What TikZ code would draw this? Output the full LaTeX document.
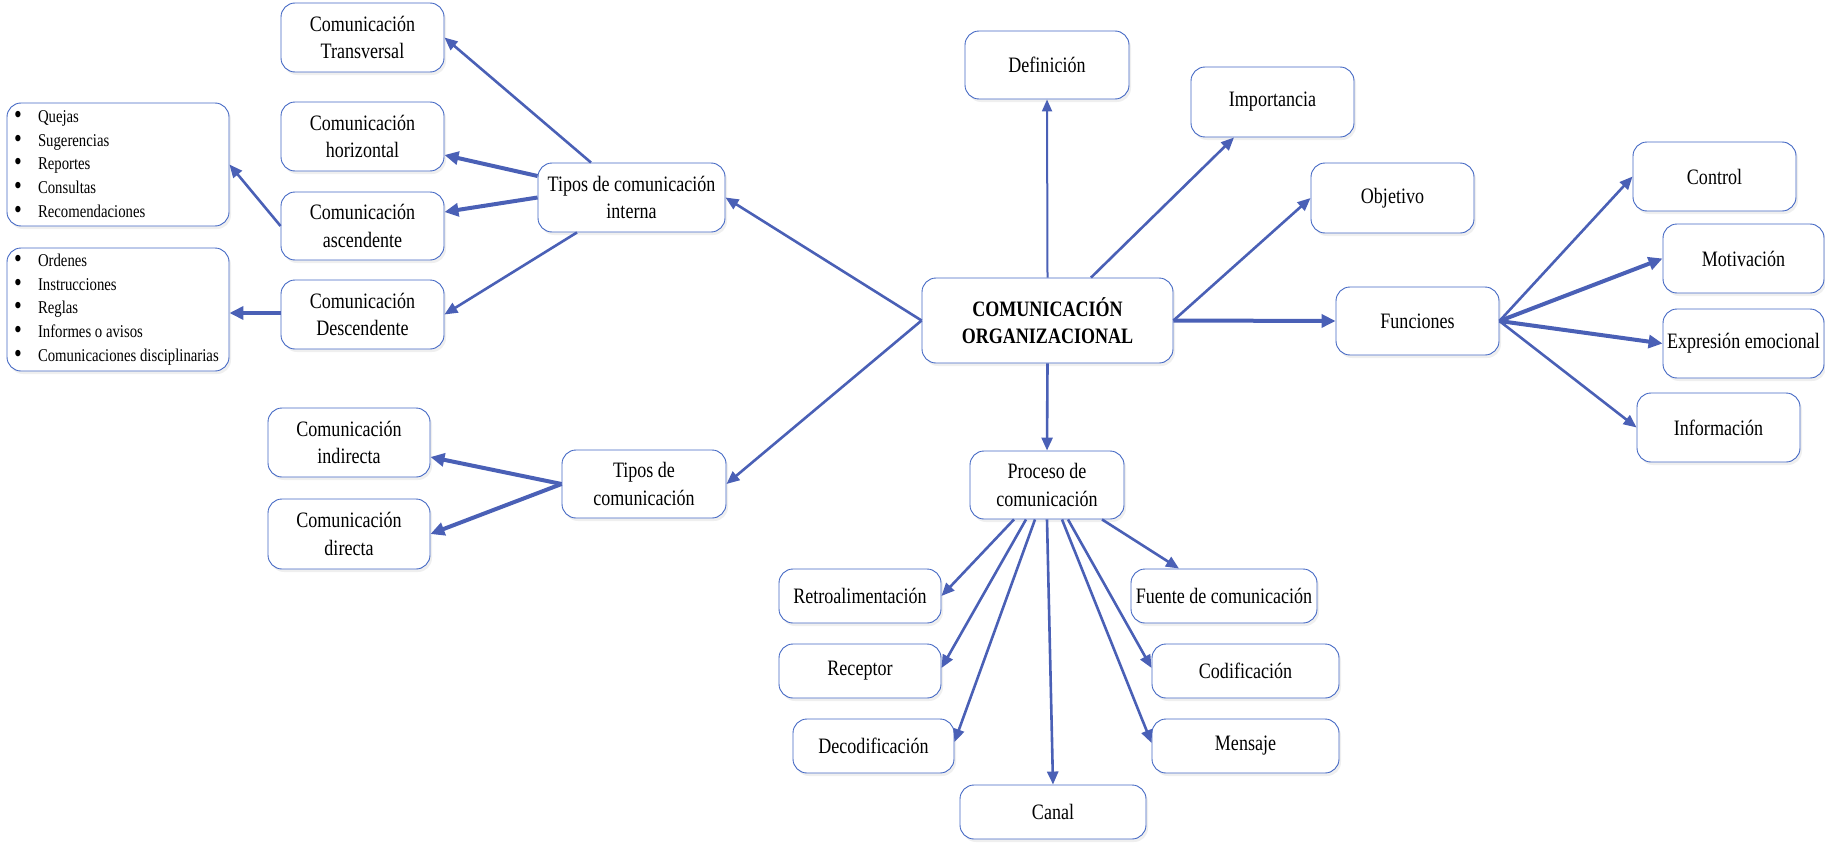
\documentclass[tikz,border=0pt]{standalone}
\usepackage{fontspec}
\setmainfont{Liberation Serif}[FakeStretch=0.82]
\usetikzlibrary{arrows.meta,shadows,calc}
\definecolor{boxblue}{RGB}{68,104,196}
\definecolor{arrblue}{RGB}{74,96,182}
\newcommand{\lrow}[1]{\makebox[208pt][l]{\makebox[24pt][l]{\raisebox{-1pt}{\scalebox{1.5}{\textbullet}}}#1}}
\tikzset{
  box/.style={draw=boxblue, line width=0.9pt, rounded corners=14pt, fill=white,
    align=center, inner sep=0pt, font=\fontsize{22}{27.5}\selectfont,
    drop shadow={shadow xshift=2pt, shadow yshift=-3pt, fill=black!12}},
  listbox/.style={box, align=center,
    minimum width=222pt, minimum height=123pt, font=\fontsize{18}{23.7}\selectfont},
  arr/.style={draw=arrblue, line width=2.6pt, -{Triangle[length=13pt,width=11pt]}},
  arrthick/.style={draw=arrblue, line width=4pt, -{Triangle[length=14pt,width=13pt]}},
  arrthin/.style={draw=arrblue, line width=2pt, -{Triangle[length=12pt,width=10pt]}}
}
\begin{document}
\begin{tikzpicture}[x=1pt,y=-1pt]
\useasboundingbox (0,0) rectangle (1825,843);
% left branch
\node[box,minimum width=163pt,minimum height=69pt] (trans) at (362.5,37.5) {Comunicación\\Transversal};
\node[box,minimum width=163pt,minimum height=69pt] (horiz) at (362.5,136.5) {Comunicación\\horizontal};
\node[box,minimum width=163pt,minimum height=68pt] (asc) at (362.5,226) {Comunicación\\ascendente};
\node[box,minimum width=163pt,minimum height=69pt] (desc) at (362.5,314.5) {Comunicación\\Descendente};
\node[box,minimum width=187pt,minimum height=69pt] (tint) at (631.5,197.5) {Tipos de comunicación\\interna};
\node[listbox] (quejas) at (118,164.5) {\lrow{Quejas}\\\lrow{Sugerencias}\\\lrow{Reportes}\\\lrow{Consultas}\\\lrow{Recomendaciones}};
\node[listbox] (ordenes) at (118,309.5) {\lrow{Ordenes}\\\lrow{Instrucciones}\\\lrow{Reglas}\\\lrow{Informes o avisos}\\\lrow{Comunicaciones disciplinarias}};
\node[box,minimum width=162pt,minimum height=69pt] (indir) at (349,442.5) {Comunicación\\indirecta};
\node[box,minimum width=162pt,minimum height=70pt] (dir) at (349,534) {Comunicación\\directa};
\node[box,minimum width=164pt,minimum height=68pt] (tcom) at (644,484) {Tipos de\\comunicación};
% center and top
\node[box,minimum width=164pt,minimum height=68pt] (def) at (1047,65) {Definición};
\node[box,minimum width=163pt,minimum height=70pt] (imp) at (1272.5,102) {Importancia};
\node[box,minimum width=163pt,minimum height=70pt] (obj) at (1392.5,198) {Objetivo};
\node[box,minimum width=251pt,minimum height=85pt,font=\fontsize{22}{27.5}\selectfont\bfseries] (main) at (1047.5,320.5) {COMUNICACIÓN\\ORGANIZACIONAL};
% right branch
\node[box,minimum width=163pt,minimum height=68pt] (fun) at (1417.5,321) {Funciones};
\node[box,minimum width=163pt,minimum height=69pt] (control) at (1714.5,176.5) {Control};
\node[box,minimum width=161pt,minimum height=69pt] (motiv) at (1743.5,258.5) {Motivación};
\node[box,minimum width=161pt,minimum height=69pt] (expr) at (1743.5,343.5) {Expresión emocional};
\node[box,minimum width=163pt,minimum height=69pt] (info) at (1718.5,427.5) {Información};
% bottom branch
\node[box,minimum width=154pt,minimum height=68pt] (proc) at (1047,485) {Proceso de\\comunicación};
\node[box,minimum width=162pt,minimum height=54pt] (retro) at (860,596) {Retroalimentación};
\node[box,minimum width=162pt,minimum height=54pt] (recep) at (860,671) {Receptor};
\node[box,minimum width=161pt,minimum height=54pt] (decod) at (873.5,746) {Decodificación};
\node[box,minimum width=186pt,minimum height=54pt] (canal) at (1053,812) {Canal};
\node[box,minimum width=186pt,minimum height=54pt] (fuente) at (1224,596) {Fuente de comunicación};
\node[box,minimum width=187pt,minimum height=54pt] (codif) at (1245.5,671) {Codificación};
\node[box,minimum width=187pt,minimum height=54pt] (mensaje) at (1245.5,746) {Mensaje};
% connectors left
\draw[arr] ([xshift=-40.5pt]tint.north) -- (trans.east);
\draw[arrthick] ([yshift=21.5pt]tint.west) -- ([yshift=-18.5pt]horiz.east);
\draw[arrthick] (tint.west) -- ([yshift=14pt]asc.east);
\draw[arr] ([xshift=-54.5pt]tint.south) -- (desc.east);
\draw[arr] (asc.west) -- (quejas.east);
\draw[arrthick] ([yshift=1.5pt]desc.west) -- ([yshift=1.5pt]desc.west -| ordenes.east);
\draw[arr] (main.west) -- (tint.east);
\draw[arr] (main.west) -- (tcom.east);
\draw[arrthick] (tcom.west) -- ([yshift=-14.5pt]indir.east);
\draw[arrthick] (tcom.west) -- (dir.east);
% connectors top / right
\draw[arrthin] (main.north) -- (def.south);
\draw[arr] ([xshift=43.5pt]main.north) -- ([xshift=-38.5pt]imp.south);
\draw[arr] (main.east) -- (obj.west);
\draw[arrthick] (main.east) -- (fun.west);
\draw[arr] (fun.east) -- (control.west);
\draw[arrthick] (fun.east) -- (motiv.west);
\draw[arrthick] (fun.east) -- (expr.west);
\draw[arr] (fun.east) -- (info.west);
% connectors bottom
\draw[arr] (main.south) -- (proc.north);
\draw[arr] ([xshift=-33pt]proc.south) -- (retro.east);
\draw[arr] ([xshift=-21pt]proc.south) -- ([yshift=3pt]recep.east);
\draw[arr] ([xshift=-12pt]proc.south) -- ([yshift=4pt]decod.east);
\draw[arr] (proc.south) -- (canal.north);
\draw[arr] ([xshift=15pt]proc.south) -- ([yshift=3pt]mensaje.west);
\draw[arr] ([xshift=21pt]proc.south) -- ([yshift=3pt]codif.west);
\draw[arr] ([xshift=55pt]proc.south) -- ([xshift=-45pt]fuente.north);
\end{tikzpicture}
\end{document}
